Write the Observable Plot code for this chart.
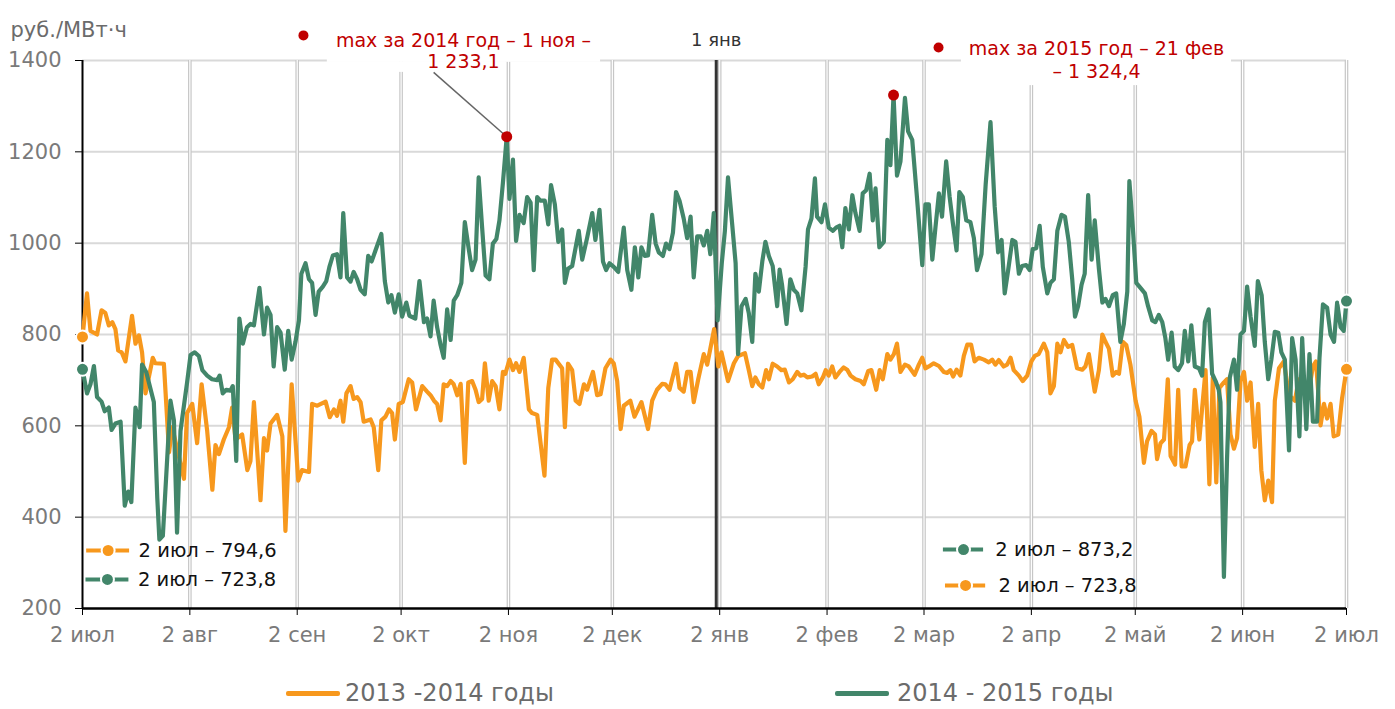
<!DOCTYPE html>
<html><head><meta charset="utf-8">
<script src="https://cdn.jsdelivr.net/npm/d3@7"></script>
<script src="https://cdn.jsdelivr.net/npm/@observablehq/plot@0.6"></script>
<style>
body{margin:0;background:#fff;font-family:"DejaVu Sans",sans-serif;}
#chart{width:1395px;height:660px;}
#legend{position:relative;width:1395px;height:49px;}
.sw{position:absolute;height:5px;border-radius:2px;}
.lt{position:absolute;font-size:24px;color:#6b6b6b;white-space:nowrap;line-height:1;}
</style></head><body>
<div id="chart"></div><div id="legend"></div>
<script>
// ---- data ----
const seriesNames = ["2013 -2014 годы", "2014 - 2015 годы"];
const seriesColors = ["#f7981d", "#42866a"];
const tickDays = [0,31,62,92,123,153,184,215,243,274,304,335,365];
const tickLabels = ["2 июл","2 авг","2 сен","2 окт","2 ноя","2 дек","2 янв","2 фев","2 мар","2 апр","2 май","2 июн","2 июл"];
const yTicks = [200,400,600,800,1000,1200,1400];
const yTitle = "руб./МВт·ч";
const janDay = 183, janLabel = "1 янв";
const maxDates = ["1 ноя", "21 фев"];
const maxYears = ["2014", "2015"];
const dayLabel = "2 июл";

const daysOrange = [0,1.3,2.3,4.2,5.5,6.6,7.6,8.6,9.5,10.3,11.3,12.4,14.3,15.3,16.3,17.2,18.2,20.3,21,23.5,25,25.9,29.3,30.2,31.7,33.1,34.4,36,37.5,38.4,39.4,40.8,42.3,43.2,44.2,46.1,47.6,48.5,49.5,51.4,52.4,53.3,54.3,56.2,57.7,58.6,60.4,62.3,63.4,65.4,66.3,67.8,70.2,71.4,72.6,73.5,74.5,75.3,76.2,77.4,78.3,79.3,80.3,81.2,83.2,84.1,85.4,86.3,87.5,88.5,89.4,90.2,91.3,92.5,94.2,95.2,96.3,98.1,99.5,100.5,101.5,102.4,103.4,104.3,105.3,106.3,107.2,108.2,109.2,110.4,111.4,112.5,113.5,114.4,115.4,116.2,117.3,118.3,119.3,120.4,121.4,122.1,123.3,124.3,125.2,126.2,127.4,128.9,129.8,131.3,133.4,134.5,135.6,136.6,138.5,139.3,140.2,141.4,142.4,143.5,144.8,145.7,147.4,148.6,149.6,151,152.5,153.4,154.4,155.4,156.3,158.2,159.4,161.4,163.3,164.5,165.9,167.4,168.3,169.5,171.4,172.4,173.6,174.6,175.6,176.5,177.8,179.4,180.4,182.4,183.6,184.5,186.4,188.1,189.3,191.3,192.4,193.4,194.3,195.3,196.3,197.4,198.2,199.3,200.6,201.8,202.8,204,205.1,206.4,207.3,208.3,209.3,210.7,211.7,212.6,213.8,214.6,215.5,216.5,217.4,218.6,219.8,220.8,221.8,223.2,224.7,225.6,226.9,227.8,229.2,230.2,231.1,232.4,233.3,234.3,235.2,236.2,237.5,238.6,240.3,241.5,242.5,243.4,244.4,245.8,247.3,248.7,249.7,250.6,251.4,252.4,253.5,254.5,255.5,256.6,257.6,258.8,260.3,261.7,262.7,263.6,264.6,266,267,268,268.9,270.4,271.5,272.8,274,275,276.1,277.6,278.6,279.5,280.5,281.5,282.4,283.4,284.6,285.8,287.2,288.7,289.6,290.6,292.3,293.5,294.5,295.4,296.4,297.5,298.5,299.3,300.4,301.4,302.6,304.1,305.2,306.5,307.4,308.7,309.7,310.3,311.3,312.3,313.4,314.2,315.5,316.4,317.4,318.5,319.7,320.4,321.2,322.5,324.3,325.4,326.4,327.4,328.3,329.6,330.5,331.5,332.5,333.4,334.4,335.4,336.3,337.3,338.5,339.5,340.4,341.4,342.4,343.5,344.3,345.5,346.9,348.4,350.1,351.2,352.7,354.1,355.3,356.2,357.5,358.5,359.4,360.4,361.3,362.6,363.7,365];
const pricesOrange = [794.6,890,808,800,853,847,820,827,812,765,761,741,841,780,798,761,671,749,737,736,542,597,484,628,648,562,691,589,460,558,538,570,597,640,570,581,503,523,652,437,573,546,605,624,577,370,691,480,503,499,648,644,653,619,636,622,655,609,671,687,659,663,652,609,614,597,503,612,620,636,628,570,648,652,702,695,636,687,675,667,655,648,612,691,687,698,691,667,692,519,695,698,679,652,659,737,655,698,687,636,718,714,745,722,737,718,749,636,628,624,491,683,745,745,726,597,736,722,655,648,691,679,718,667,669,726,745,737,698,593,644,655,620,652,593,655,679,692,691,679,736,683,675,718,718,652,702,757,734,812,730,761,698,737,753,759,722,687,706,691,684,722,702,736,730,722,723,695,702,718,710,712,706,708,714,691,706,722,710,730,706,718,728,723,710,702,698,691,720,722,679,722,702,757,745,757,780,718,734,730,712,734,749,726,730,737,731,718,716,722,708,723,710,753,778,778,741,749,745,739,745,734,744,730,734,749,722,710,698,710,741,753,757,780,761,671,687,780,761,788,773,777,726,723,730,757,675,722,800,784,769,710,718,714,784,777,734,655,620,519,566,589,581,527,562,570,702,534,515,679,511,511,558,566,679,570,722,472,706,476,683,695,702,581,550,573,698,718,655,695,554,648,503,437,480,433,655,726,741,667,655,702,679,675,730,741,601,648,616,648,577,581,659,723.8];

const daysGreen = [0,1.3,2.3,3.3,4.2,5.5,6.4,7.6,8.4,9.5,11,12.2,13.2,14.1,15.3,16.5,17.2,18.4,20.6,21.6,22.2,23.2,25.4,26.4,27.3,28.3,30.2,31.2,32.4,33.6,34.6,36,37.4,38.9,39.6,40.5,41.5,42.7,43.4,44.4,45.3,46.3,47.5,48.5,49.5,51.1,52.4,53.3,54.3,55.2,56.2,57.2,58.4,59.4,60.4,61.5,62.5,63.2,64.4,65.4,66.3,67.3,68.2,69.4,70.4,71.3,72.3,73.5,74.5,75.3,76.4,77.4,78.3,79.3,80.3,81.5,82.5,83.5,84.6,86.3,87.3,88.3,89.2,90.2,91.3,92.3,93.5,94.4,96.1,97.3,98.6,99.5,100.5,101.4,102.4,103.4,104.3,105.3,106.3,107.2,108.2,109.4,110.4,111.6,112.5,113.5,114.4,115.4,116.4,117.5,118.5,119.5,120.4,121.4,122.5,123.3,124.3,125.2,126.2,127.4,128.4,129.4,130.3,131.3,132.2,133.5,134.5,135.3,136.4,137.4,138.5,139.3,140.2,141.4,143.3,144.3,145.7,147.2,148.1,149.3,150.3,151.2,152.2,153.4,154.7,156.3,157.3,158.5,159.5,160.5,161.4,162.4,163.3,164.5,165.5,166.4,167.6,168.5,169.5,170.5,171.4,172.4,173.6,174.6,175.6,176.5,177.5,178.5,179.4,180.4,181.3,182.3,183.4,184.6,185.5,186.4,187.6,188.6,189.3,190.3,191.5,192.4,193.4,194.3,195.3,196.3,197.2,198.2,199.3,200.6,201.3,202,203.3,204.4,205.4,206.4,207.6,208.8,209.5,210.5,211.5,212.1,213.4,214.4,215.5,216.7,217.6,218.6,219.4,220.3,221.3,222.3,223.2,224.4,225.3,226.3,227.3,228.2,229,230.1,231.4,232.4,233.3,234.2,235.2,236.2,237.5,238.4,239.6,241,242.5,243.4,244.4,245.4,246.3,247.3,248.2,249.4,250.4,251.3,252.4,253.2,254.2,255.2,256.4,257.4,258.3,259.6,260.8,262.2,263.4,264.4,265.4,266.3,267.3,268.5,269.4,270.4,271.3,272.5,273.5,274.4,275.4,276.4,277.3,278.6,279.5,280.5,281.5,282.7,283.7,284.8,285.8,286.6,287.5,288.5,289.4,290.4,291.4,292.3,293.5,294.5,295.4,296.4,297.5,298.5,299.7,300.7,301.7,302.3,303.3,304.3,305.5,306.8,307.7,308.9,309.8,310.8,311.8,312.7,313.5,314.5,315.4,316.4,317.5,318.3,319.3,320.2,321.2,322.4,323.3,324.1,325.2,326.2,327.2,328.1,328.6,329.6,330.5,331.3,332.5,333.4,334.4,335.4,336.3,337.3,338.5,339.4,340.5,341.4,342.4,343.3,344.3,345.3,346.2,347.2,348.4,349.3,350.3,351.4,352.2,353.4,354.3,355.3,356.5,357.2,358.2,359.4,360.4,361.4,362.3,363.3,364.2,365];
const pricesGreen = [723.8,671,691,731,663,653,632,640,591,605,609,425,456,433,640,597,734,718,652,441,351,359,655,612,366,589,695,755,761,753,722,710,702,700,710,671,679,677,687,523,835,780,816,823,820,902,800,859,843,730,816,804,723,808,745,784,831,933,956,921,913,843,894,905,917,948,973,976,925,1066,925,916,937,921,898,888,972,960,984,1020,917,870,886,848,888,839,870,841,835,917,827,835,796,874,816,777,749,855,788,874,886,913,1046,984,941,964,1144,1034,929,921,999,1009,1050,1132,1233.1,1097,1183,1005,1062,1044,1101,1089,941,1101,1093,1093,1041,1127,1085,1003,1030,913,944,950,1027,964,1011,1066,1007,1073,960,941,956,948,937,1034,941,898,991,925,991,972,973,1062,999,980,972,999,987,1023,1112,1093,1054,1011,1058,925,1015,1015,995,1027,976,1066,831,956,1027,1144,1042,956,757,862,878,847,784,933,894,960,1003,972,950,862,942,909,823,921,898,890,853,948,1030,1054,1142,1058,1046,1085,1034,1027,1034,1038,991,1077,1030,1105,1066,1027,1109,1116,1152,1050,1120,991,1003,1226,1171,1324.4,1148,1179,1318,1245,1226,1097,952,1085,1085,964,1034,1109,1058,1179,1101,1046,984,1112,1101,1050,1046,1011,941,976,1128,1265,1081,980,1007,890,941,1007,1003,933,950,952,941,987,989,1038,948,890,913,921,1027,1062,1058,1003,921,839,862,909,933,1105,964,1050,944,870,878,862,886,890,784,823,894,1136,1034,913,902,890,862,831,827,843,827,792,745,804,730,722,737,808,741,820,730,726,710,827,855,714,698,679,652,269,527,706,745,679,800,808,905,839,775,917,886,784,702,745,806,804,761,745,546,792,745,577,792,593,757,609,609,749,866,859,800,784,870,816,808,873.2];

// ---- layout (positions in data units) ----
const annot = [
  {dotX:63.8, dotY:1455, tx:110, l1:1444, l2:1396, linkX:101.4, linkY:1374},
  {dotX:247.2, dotY:1428.5, tx:292.8, l1:1426, l2:1376}
];
const boxes = [
  {x1:70.7, x2:149.6, y1:1396, y2:1477},
  {x1:70.7, x2:122.1, y1:1374, y2:1397},
  {x1:253.8, x2:331.8, y1:1345, y2:1466}
];

const ru = d3.formatLocale({decimal:",", thousands:" ", grouping:[3], currency:["",""]});
const fmt = ru.format(",.1f");

const orange = daysOrange.map((d,i)=>({day:d, price:pricesOrange[i]}));
const green = daysGreen.map((d,i)=>({day:d, price:pricesGreen[i]}));
const max2014 = d3.greatest(green.filter(d=>d.day<janDay), d=>d.price);
const max2015 = d3.greatest(green.filter(d=>d.day>=janDay), d=>d.price);
const maxPts = [max2014, max2015];

const ends = [
  {...orange[0], c:seriesColors[0]}, {...green[0], c:seriesColors[1]},
  {...orange[orange.length-1], c:seriesColors[0]}, {...green[green.length-1], c:seriesColors[1]}
];
// inline legends
const inl = [
  {x1:1.2, x2:13.6, y:327, tx:16.2, c:seriesColors[0], v:orange[0].price},
  {x1:1.0, x2:13.4, y:263.6, tx:16.0, c:seriesColors[1], v:green[0].price},
  {x1:248.6, x2:260.2, y:329, tx:263.6, c:seriesColors[1], v:green[green.length-1].price},
  {x1:249.2, x2:260.8, y:250.4, tx:264.5, c:seriesColors[0], v:orange[orange.length-1].price}
];
inl.forEach(d=>{d.xm=(d.x1+d.x2)/2; d.label=`${dayLabel} – ${fmt(d.v)}`;});

const annTexts = [];
annot.forEach((a,i)=>{
  const p = maxPts[i];
  if (i===0) {
    annTexts.push({x:a.tx, y:a.l1, t:`max за ${maxYears[i]} год – ${maxDates[i]} –`});
    annTexts.push({x:a.tx, y:a.l2, t:fmt(p.price)});
  } else {
    annTexts.push({x:a.tx, y:a.l1, t:`max за ${maxYears[i]} год – ${maxDates[i]}`});
    annTexts.push({x:a.tx, y:a.l2, t:`– ${fmt(p.price)}`});
  }
});
const red = "#c00000";
const gridDays = tickDays.slice(1);

const plot = Plot.plot({
  width:1395, height:660,
  marginLeft:82, marginRight:49, marginTop:60, marginBottom:52,
  x:{domain:[0,365]},
  y:{domain:[200,1400]},
  style:{fontFamily:"DejaVu Sans, sans-serif", fontSize:"16px", background:"#fff", color:"#000"},
  marks:[
    Plot.ruleY(yTicks.slice(1), {x1:0, x2:365, stroke:"#d9d9d9", strokeWidth:2}),
    Plot.ruleX(gridDays, {y1:200, y2:1400, stroke:"#c6c6c6", strokeWidth:3.6}),
    Plot.ruleX(gridDays, {y1:200, y2:1400, stroke:"#fff", strokeWidth:1.2}),
    Plot.rect(boxes, {x1:"x1", x2:"x2", y1:"y1", y2:"y2", fill:"#fff"}),
    Plot.ruleX([janDay], {y1:200, y2:1400, stroke:"#333", strokeWidth:3}),
    Plot.text([janLabel], {x:janDay, y:1444, fontSize:18, fill:"#333"}),
    Plot.axisY({ticks:yTicks, anchor:"left", tickSize:0, tickPadding:21, fontSize:21, color:"#7a7a7a", label:null, tickFormat:d=>String(d)}),
    Plot.axisY({ticks:yTicks, anchor:"left", tickSize:7, tickFormat:()=>"", color:"#000", label:null}),
    Plot.axisX({ticks:tickDays, anchor:"bottom", tickSize:0, tickPadding:19, fontSize:21, color:"#7a7a7a", label:null, tickFormat:d=>tickLabels[tickDays.indexOf(d)]}),
    Plot.axisX({ticks:tickDays, anchor:"bottom", tickSize:7, tickFormat:()=>"", color:"#000", label:null}),
    Plot.ruleX([0], {y1:200, y2:1400, stroke:"#000", strokeWidth:2}),
    Plot.ruleY([200], {x1:0, x2:365, stroke:"#000", strokeWidth:2.5}),
    Plot.text([yTitle], {frameAnchor:"top-left", dx:-72, dy:-38, textAnchor:"start", fontSize:21, fill:"#6b6b6b"}),
    Plot.line(orange, {x:"day", y:"price", stroke:seriesColors[0], strokeWidth:4.2, strokeLinejoin:"round"}),
    Plot.line(green, {x:"day", y:"price", stroke:seriesColors[1], strokeWidth:4.2, strokeLinejoin:"round"}),
    Plot.dot(ends, {x:"day", y:"price", fill:"c", stroke:"#fff", strokeWidth:2, r:6.5}),
    Plot.link([annot[0]], {x1:"linkX", y1:"linkY", x2:()=>max2014.day, y2:()=>max2014.price, stroke:"#666", strokeWidth:1.5}),
    Plot.dot(maxPts, {x:"day", y:"price", fill:red, r:5.5}),
    Plot.dot(annot, {x:"dotX", y:"dotY", fill:red, r:5}),
    Plot.text(annTexts, {x:"x", y:"y", text:"t", fill:red, fontSize:19}),
    Plot.ruleY(inl, {x1:"x1", x2:"x2", y:"y", stroke:"c", strokeWidth:4}),
    Plot.dot(inl, {x:"xm", y:"y", fill:"c", stroke:"#fff", strokeWidth:2, r:6.5}),
    Plot.text(inl, {x:"tx", y:"y", text:"label", textAnchor:"start", fontSize:19.5, fill:"#111"})
  ]
});
document.getElementById("chart").append(plot);

// bottom legend
const lg = document.getElementById("legend");
const legPos = [{sw:286, tx:345}, {sw:835, tx:897}];
seriesNames.forEach((n,i)=>{
  const s = document.createElement("div"); s.className="sw";
  s.style.left=legPos[i].sw+"px"; s.style.width="54px"; s.style.top="31px"; s.style.background=seriesColors[i];
  lg.append(s);
  const t = document.createElement("div"); t.className="lt";
  t.style.left=legPos[i].tx+"px"; t.style.top="21px"; t.textContent=n;
  lg.append(t);
});
</script></body></html>
